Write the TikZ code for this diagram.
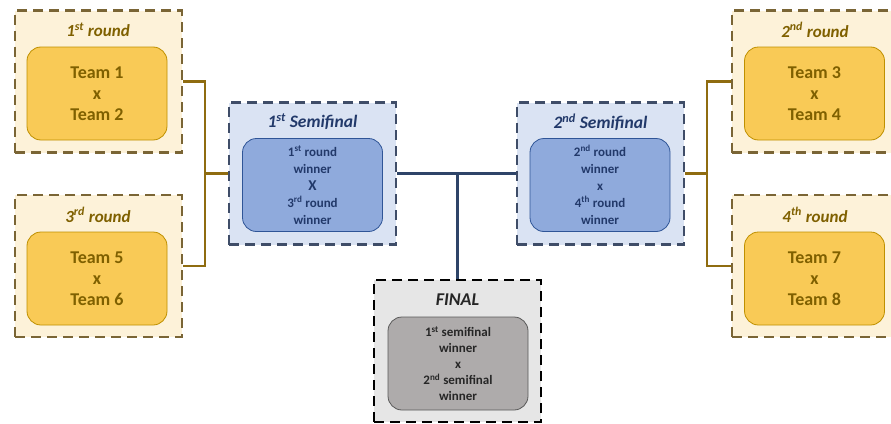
\documentclass[tikz,border=0pt]{standalone}
\usepackage{fontspec}
\setmainfont{Carlito}

\definecolor{roundbg}{HTML}{FDF2D9}
\definecolor{rounddash}{HTML}{7A6535}
\definecolor{roundfill}{HTML}{F9CA56}
\definecolor{roundline}{HTML}{BF9000}
\definecolor{roundtext}{HTML}{7F6000}
\definecolor{goldlink}{HTML}{8F6C10}
\definecolor{semibg}{HTML}{DAE3F3}
\definecolor{semidash}{HTML}{3F4D68}
\definecolor{semifill}{HTML}{8FAADC}
\definecolor{semiline}{HTML}{2F5597}
\definecolor{semitext}{HTML}{22396A}
\definecolor{navylink}{HTML}{2E4468}
\definecolor{finalbg}{HTML}{E6E6E6}
\definecolor{finalfill}{HTML}{AEABAB}
\definecolor{finalline}{HTML}{595959}
\definecolor{finaltext}{HTML}{262626}

\begin{document}
\begin{tikzpicture}[x=1pt,y=-1pt,
    frame/.style={dash pattern=on 10pt off 6pt,line width=2.4pt,minimum width=167pt,minimum height=142pt,inner sep=0pt},
    card/.style={rounded corners=14pt,line width=0.8pt,minimum width=140pt,minimum height=93pt,align=center,font=\bfseries},
    roundbox/.style={frame,draw=rounddash,fill=roundbg},
    roundcard/.style={card,draw=roundline,fill=roundfill,text=roundtext,font=\fontsize{18}{21}\selectfont\bfseries},
    roundtitle/.style={text=roundtext,font=\fontsize{17}{19}\selectfont\bfseries\itshape},
    semibox/.style={frame,draw=semidash,fill=semibg},
    semicard/.style={card,draw=semiline,fill=semifill,text=semitext,font=\fontsize{13}{17}\selectfont\bfseries},
    semititle/.style={text=semitext,font=\fontsize{17.5}{20}\selectfont\bfseries\itshape},
    finalbox/.style={frame,draw=black,fill=finalbg},
    finalcard/.style={card,draw=finalline,fill=finalfill,text=finaltext,font=\fontsize{13}{16}\selectfont\bfseries},
    finaltitle/.style={text=finaltext,font=\fontsize{18}{20}\selectfont\bfseries\itshape},
    goldwire/.style={draw=goldlink,line width=2.4pt},
    navywire/.style={draw=navylink,line width=2.4pt}]

    \useasboundingbox (0,0) rectangle (891,423);

    % rounds
    \node[roundbox] at (98.5,81.5) (r1) {};
    \node[roundtitle] at (98,30) (r1t) {1\textsuperscript{st} round};
    \node[roundcard] at (97,93.5) (c1) {Team 1\\x\\Team 2};

    \node[roundbox] at (98.5,266) (r3) {};
    \node[roundtitle] at (98,215) (r3t) {3\textsuperscript{rd} round};
    \node[roundcard] at (97,278.5) (c3) {Team 5\\x\\Team 6};

    \node[roundbox] at (815.5,81.5) (r2) {};
    \node[roundtitle] at (815,30) (r2t) {2\textsuperscript{nd} round};
    \node[roundcard] at (814.5,93.5) (c2) {Team 3\\x\\Team 4};

    \node[roundbox] at (815.5,266) (r4) {};
    \node[roundtitle] at (815,215) (r4t) {4\textsuperscript{th} round};
    \node[roundcard] at (814.5,278.5) (c4) {Team 7\\x\\Team 8};

    % semifinals
    \node[semibox] at (312.5,173.5) (s1) {};
    \node[semititle] at (312.5,122) (s1t) {1\textsuperscript{st} Semifinal};
    \node[semicard] at (312.5,185) (d1) {1\textsuperscript{st} round\\winner\\{\fontsize{15}{17}\selectfont X}\\3\textsuperscript{rd} round\\winner};

    \node[semibox] at (600.5,173.5) (s2) {};
    \node[semititle] at (600.5,122) (s2t) {2\textsuperscript{nd} Semifinal};
    \node[semicard] at (600,185) (d2) {2\textsuperscript{nd} round\\winner\\x\\4\textsuperscript{th} round\\winner};

    % final
    \node[finalbox] at (457.5,351) (fin) {};
    \node[finaltitle] at (457.5,300) (fint) {FINAL};
    \node[finalcard] at (458,363.5) (f1) {1\textsuperscript{st} semifinal\\winner\\x\\2\textsuperscript{nd} semifinal\\winner};

    % wires
    \coordinate (jl) at (205,173.5);
    \coordinate (jr) at (707,173.5);
    \draw[goldwire] (r1.east) -| (jl) |- (r3.east);
    \draw[goldwire] (jl) -- (s1.west);
    \draw[goldwire] (r2.west) -| (jr) |- (r4.west);
    \draw[goldwire] (jr) -- (s2.east);
    \draw[navywire] (s1.east) -- (s2.west);
    \draw[navywire] (s1.east -| fin.north) -- (fin.north);
\end{tikzpicture}
\end{document}
